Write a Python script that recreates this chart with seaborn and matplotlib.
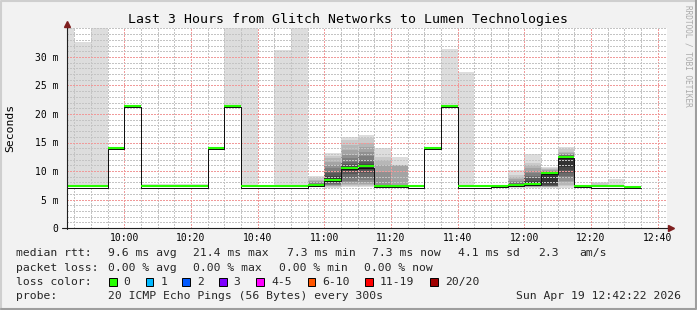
import matplotlib
matplotlib.use("Agg")
import matplotlib.pyplot as plt
import matplotlib.transforms as mtransforms
from matplotlib.patches import Rectangle
from matplotlib.lines import Line2D
import numpy as np
import pandas as pd
import seaborn as sns

W, H = 697, 310

# ---------------- data ----------------
title = "Last 3 Hours from Glitch Networks to Lumen Technologies"

bin_times = ["09:40", "09:45", "09:50", "09:55", "10:00", "10:05", "10:10",
             "10:15", "10:20", "10:25", "10:30", "10:35", "10:40", "10:45",
             "10:50", "10:55", "11:00", "11:05", "11:10", "11:15", "11:20",
             "11:25", "11:30", "11:35", "11:40", "11:45", "11:50", "11:55",
             "12:00", "12:05", "12:10", "12:15", "12:20", "12:25", "12:30"]

median_ms = [7.3, 7.3, 7.3, 14.0, 21.4, 7.3, 7.3,
             7.3, 7.3, 14.0, 21.4, 7.3, 7.3, 7.3,
             7.3, 7.6, 8.5, 10.5, 10.8, 7.4, 7.4,
             7.3, 14.1, 21.4, 7.3, 7.3, 7.35, 7.6,
             7.8, 9.7, 12.5, 7.35, 7.3, 7.3, 7.25]

# highest ping of each 5-minute round (values above 35 ms run off the chart)
max_ms = [38.0, 32.6, 38.0, 14.0, 21.4, 7.7, 7.7,
          7.7, 7.7, 14.0, 38.0, 38.0, 7.3, 31.2,
          38.0, 9.1, 13.2, 16.0, 16.4, 14.0, 12.5,
          7.3, 14.1, 31.4, 27.4, 7.3, 7.35, 10.2,
          12.9, 10.65, 14.15, 7.35, 8.1, 8.6, 7.25]

# full sorted ping sets (20 pings) for rounds with a wide spread
ping_sets = {
    "10:55": [7.2, 7.3, 7.35, 7.4, 7.45, 7.5, 7.5, 7.55, 7.6, 7.6,
              7.65, 7.7, 7.75, 7.8, 7.9, 8.0, 8.2, 8.5, 8.8, 9.1],
    "11:00": [7.1, 7.2, 7.3, 7.4, 7.5, 7.6, 7.8, 8.0, 8.2, 8.4,
              8.7, 9.1, 9.6, 10.0, 10.5, 11.05, 11.6, 12.2, 12.6, 13.2],
    "11:05": [7.2, 7.3, 7.5, 7.7, 8.0, 8.3, 8.8, 9.4, 10.0, 10.4,
              10.6, 10.9, 11.2, 11.6, 12.2, 12.8, 13.7, 14.6, 15.4, 16.0],
    "11:10": [7.2, 7.3, 7.5, 7.7, 8.0, 8.4, 9.0, 9.6, 10.2, 10.6,
              10.9, 11.2, 11.5, 12.0, 12.6, 13.3, 14.2, 15.0, 15.8, 16.4],
    "11:15": [7.2, 7.2, 7.25, 7.3, 7.3, 7.3, 7.3, 7.35, 7.4, 7.4,
              7.4, 7.45, 7.5, 7.5, 7.6, 9.9, 11.1, 12.0, 12.5, 14.0],
    "11:20": [7.2, 7.2, 7.25, 7.3, 7.3, 7.3, 7.35, 7.35, 7.4, 7.4,
              7.4, 7.45, 7.45, 7.5, 7.5, 7.55, 11.0, 11.05, 11.1, 12.5],
    "11:55": [7.1, 7.15, 7.2, 7.25, 7.3, 7.35, 7.4, 7.45, 7.5, 7.6,
              7.65, 7.7, 7.8, 7.95, 8.1, 8.3, 8.6, 9.0, 9.3, 10.2],
    "12:00": [7.1, 7.15, 7.2, 7.25, 7.3, 7.35, 7.4, 7.5, 7.6, 7.8,
              8.0, 8.3, 8.7, 9.2, 9.6, 10.0, 10.5, 11.0, 11.4, 12.9],
    "12:05": [7.1, 7.15, 7.2, 7.25, 7.3, 7.3, 7.35, 7.45, 7.6, 7.85,
              9.7, 9.75, 9.8, 9.85, 9.9, 10.0, 10.1, 10.3, 10.45, 10.65],
    "12:10": [7.0, 7.3, 7.6, 8.0, 8.3, 8.7, 9.2, 9.6, 10.2, 10.75,
              12.5, 12.6, 12.65, 12.75, 12.85, 12.95, 13.1, 13.4, 13.8, 14.15],
    "12:20": [7.3, 7.3, 7.3, 7.3, 7.3, 7.3, 7.3, 7.3, 7.3, 7.3,
              7.3, 7.3, 7.3, 7.3, 7.3, 7.3, 7.3, 7.45, 7.85, 8.1],
}

x_tick_labels = ["10:00", "10:20", "10:40", "11:00", "11:20",
                 "11:40", "12:00", "12:20", "12:40"]
y_tick_values = [0, 5, 10, 15, 20, 25, 30]
y_tick_labels = ["0", "5 m", "10 m", "15 m", "20 m", "25 m", "30 m"]

rtt_stats = ["9.6 ms avg", "21.4 ms max", "7.3 ms min", "7.3 ms now",
             "4.1 ms sd", "2.3", "am/s"]
loss_stats = ["0.00 % avg", "0.00 % max", "0.00 % min", "0.00 % now"]
loss_labels = ["0", "1", "2", "3", "4-5", "6-10", "11-19", "20/20"]
loss_colors = ["#26ff00", "#00b8ff", "#0059ff", "#7e00ff",
               "#ff00ff", "#ff5500", "#ff0000", "#a00000"]
probe_text = "20 ICMP Echo Pings (56 Bytes) every 300s"
date_text = "Sun Apr 19 12:42:22 2026"
window_start, window_end = "09:42:48", "12:42:48"

# ---------------- style ----------------
sns.set_theme(style="white")
plt.rcParams["font.family"] = ["DejaVu Sans Mono", "DejaVu Sans"]
plt.rcParams["lines.scale_dashes"] = False

MONO = ["DejaVu Sans Mono", "DejaVu Sans"]


def to_min(s):
    parts = [int(v) for v in s.split(":")]
    mins = parts[0] * 60 + parts[1]
    if len(parts) > 2:
        mins += parts[2] / 60.0
    return mins


def px(x, y):
    return x / W, 1 - y / H


step = 5.0
bin_start = np.array([to_min(t) for t in bin_times], dtype=float)
x0, x1 = to_min(window_start), to_min(window_end)

fig = plt.figure(figsize=(W / 100, H / 100), dpi=100, facecolor="#f2f2f2")
ax = fig.add_axes([67 / W, (H - 228) / H, 600 / W, 200 / H])
ax.set_facecolor("white")

# ---------------- smoke ----------------
for i, t in enumerate(bin_times):
    if t in ping_sets:
        p = sorted(ping_sets[t])
    else:
        p = [median_ms[i]] * 19 + [max_ms[i]]
    n = len(p)
    half = n // 2
    for k in range(1, half + 1):
        lo, hi = p[k - 1], p[n - k]
        if hi - lo <= 0:
            continue
        c = int(190 / half * (half - k)) + 50
        ax.bar(bin_start[i], hi - lo, bottom=lo, width=step, align="edge",
               color=f"#{c:02x}{c:02x}{c:02x}", linewidth=0, zorder=1)

# ---------------- median line ----------------
df = pd.DataFrame({"t": np.append(bin_start, bin_start[-1] + step),
                   "ms": np.append(median_ms, median_ms[-1])})
sns.lineplot(data=df, x="t", y="ms", drawstyle="steps-post", color="#101010",
             linewidth=0.72, ax=ax, zorder=3, estimator=None, sort=False)
off = mtransforms.ScaledTranslation(0, -1.2 / 100, fig.dpi_scale_trans)
ax.lines[-1].set_transform(ax.transData + off)
ax.hlines(median_ms, bin_start, bin_start + step, colors=loss_colors[0],
          linewidth=1.5, zorder=4)

# ---------------- axes / grid ----------------
ax.set_xlim(x0, x1)
ax.set_ylim(0, 200 / 5.7)
ax.set_xticks([to_min(s) for s in x_tick_labels])
ax.set_xticklabels(x_tick_labels)
ax.set_xticks(np.arange(np.ceil(x0 / 5) * 5, x1, 5), minor=True)
ax.set_yticks(y_tick_values)
ax.set_yticklabels(y_tick_labels)
ax.set_yticks(np.arange(0, 35.1, 1), minor=True)
ax.set_xlabel("")
ax.set_ylabel("")

dots = (0, (1.44, 1.44))
ax.set_axisbelow(False)
ax.grid(which="minor", color="#c4c4c4", linestyle=dots,
        linewidth=0.72, antialiased=False)
ax.grid(which="major", color="#f09a9a", linestyle=dots,
        linewidth=0.72, antialiased=False)

for s in ax.spines.values():
    s.set_visible(False)

ax.tick_params(axis="both", which="both", colors="#1f1f1f", labelcolor="black",
               direction="out", width=0.7)
ax.tick_params(axis="both", which="major", length=2.2, labelsize=7)
ax.tick_params(axis="both", which="minor", length=1.4)
ax.tick_params(axis="y", which="major", pad=4)
ax.tick_params(axis="x", which="major", pad=1.5)
for lab in ax.get_xticklabels() + ax.get_yticklabels():
    lab.set_family(MONO)

# axis lines with arrows
ax.plot([-0.009, 1.006], [0, 0], transform=ax.transAxes, color="#1f1f1f",
        lw=0.8, clip_on=False, zorder=6)
ax.plot([0, 0], [-0.005, 1.01], transform=ax.transAxes, color="#1f1f1f",
        lw=0.8, clip_on=False, zorder=6)
ax.plot([1.007], [0], transform=ax.transAxes, marker=">", markersize=4.2,
        color="#7f1f1f", clip_on=False, zorder=7)
ax.plot([0], [1.02], transform=ax.transAxes, marker="^", markersize=4.2,
        color="#7f1f1f", clip_on=False, zorder=7)

# ---------------- texts ----------------
fig.text(*px(347.5, 19), title, ha="center", va="center", fontsize=9.5,
         family=MONO, color="black")
fig.text(*px(10, 128), "Seconds", ha="center", va="center", rotation=90,
         fontsize=8.2, family=MONO, color="black")
fig.text(*px(688, 5), "RRDTOOL / TOBI OETIKER", ha="center", va="top",
         rotation=270, fontsize=5.6, family=MONO, color="#aaaaaa")

fs = 8.2
rows_y = [253, 268, 282, 296]
fig.text(*px(16.4, rows_y[0]), "median rtt:", va="center", fontsize=fs, family=MONO)
for xx, s in zip([107.6, 193.3, 286.7, 372.4, 457.8, 537.8, 579.0], rtt_stats):
    fig.text(*px(xx, rows_y[0]), s, va="center", fontsize=fs, family=MONO)

fig.text(*px(16.4, rows_y[1]), "packet loss:", va="center", fontsize=fs, family=MONO)
for xx, s in zip([107.6, 193.3, 279.1, 364.4], loss_stats):
    fig.text(*px(xx, rows_y[1]), s, va="center", fontsize=fs, family=MONO)

fig.text(*px(16.4, rows_y[2]), "loss color:", va="center", fontsize=fs, family=MONO)
box_x = [109.0, 145.8, 182.2, 219.1, 256.4, 307.6, 365.3, 430.2]
for bx, lab, col in zip(box_x, loss_labels, loss_colors):
    fig.patches.append(Rectangle(px(bx, rows_y[2] + 4), 7.5 / W, 8.5 / H,
                                 transform=fig.transFigure, facecolor=col,
                                 edgecolor="black", linewidth=0.7))
    fig.text(*px(bx + 14.5, rows_y[2]), lab, va="center", fontsize=fs, family=MONO)

fig.text(*px(16.4, rows_y[3]), "probe:", va="center", fontsize=fs, family=MONO)
fig.text(*px(107.6, rows_y[3]), probe_text, va="center", fontsize=fs, family=MONO)
fig.text(*px(680.5, rows_y[3]), date_text, va="center", ha="right", fontsize=fs,
         family=MONO)

# 3D frame (rrdtool shade)
fig.lines.append(Line2D([0.5 / W, 0.5 / W, 1 - 0.5 / W], [0, 1 - 0.5 / H, 1 - 0.5 / H],
                        transform=fig.transFigure, color="#cfcfcf", lw=1.5))
fig.lines.append(Line2D([0.5 / W, 1 - 0.8 / W, 1 - 0.8 / W], [0.8 / H, 0.8 / H, 1],
                        transform=fig.transFigure, color="#9e9e9e", lw=1.5))

fig.savefig("out.png", dpi=100, facecolor=fig.get_facecolor())
